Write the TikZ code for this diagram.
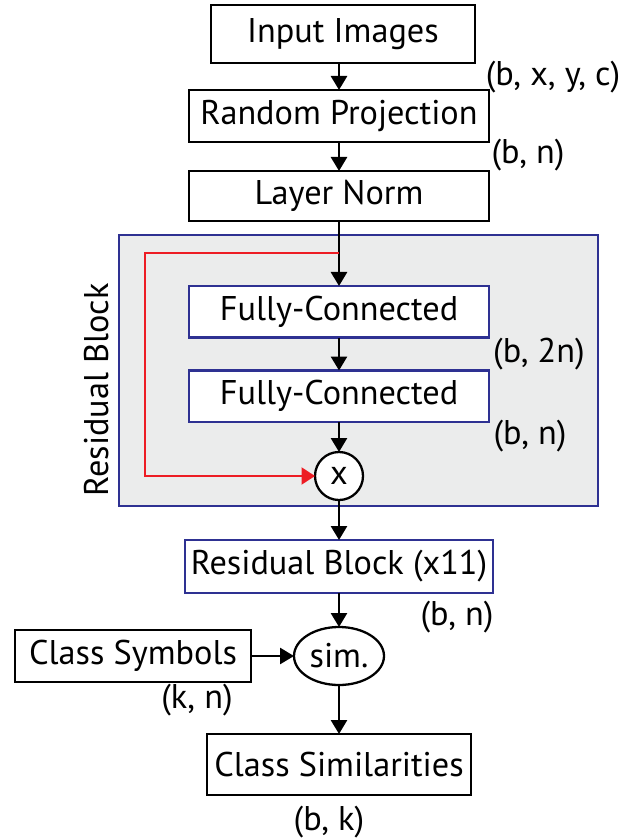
\documentclass[tikz,border=0pt]{standalone}
\usepackage{fontspec}
\setmainfont{PT Sans}
\usetikzlibrary{shapes, shapes.geometric, arrows.meta, positioning, backgrounds, calc}
\definecolor{frameblue}{RGB}{46,49,146}
\definecolor{blockgray}{RGB}{235,236,236}
\definecolor{skipred}{RGB}{237,28,36}
\tikzstyle{netbox} = [
    rectangle,
    minimum height = 1.04cm,
    text centered,
    draw = black,
    line width = 1.6pt,
    fill = white,
    outer sep = 0pt,
]
\tikzstyle{blockbox} = [
    rectangle,
    minimum width = 6cm,
    minimum height = 1.03cm,
    text centered,
    draw = frameblue,
    line width = 1.2pt,
    fill = white,
    outer sep = 0pt,
]
\tikzstyle{dimlabel} = [inner sep = 0pt]
\tikzstyle{flowarrow} = [-{Triangle[length = 0.28cm, width = 0.32cm]}, line width = 1.5pt]
\tikzstyle{skiparrow} = [-{Triangle[length = 0.27cm, width = 0.34cm]}, line width = 1.3pt, draw = skipred]

\begin{document}
\begin{tikzpicture} [font = \fontsize{19.5}{23}\selectfont]
    \useasboundingbox (0, 0) rectangle (12.62, -16.78);

    % residual block frame
    \draw[draw = frameblue, fill = blockgray, line width = 1.2pt] (2.38, -4.70) rectangle (11.96, -10.12);
    \node (BlockName) [dimlabel, rotate = 90] at (1.94, -7.80) {Residual Block};

    \node (InputImages) [netbox, minimum width = 5.28cm, minimum height = 1.16cm] at (6.86, -0.68) {Input Images};
    \node (RandomProj) [netbox, minimum width = 6cm, below = 0.54cm of InputImages, xshift = -0.08cm] {Random Projection};
    \node (LayerNorm) [netbox, minimum width = 6cm, minimum height = 1cm, below = 0.58cm of RandomProj] {Layer Norm};

    \node (FullyConn1) [blockbox, below = 1.3cm of LayerNorm] {Fully-Connected};
    \node (FullyConn2) [blockbox, below = 0.66cm of FullyConn1] {Fully-Connected};
    \node (Mult) [circle, draw = black, line width = 1.3pt, fill = white, minimum size = 0.96cm, inner sep = 0pt, outer sep = 0pt, below = 0.6cm of FullyConn2] {x};

    \node (ResidualX) [blockbox, minimum width = 6.02cm, minimum height = 1.06cm, below = 0.8cm of Mult] {Residual Block (x11)};
    \node (Sim) [ellipse, draw = black, line width = 1.3pt, fill = white, minimum width = 1.8cm, minimum height = 1.16cm, inner sep = 0pt, outer sep = 0pt, below = 0.68cm of ResidualX] {sim.};
    \node (ClassSymbols) [netbox, minimum width = 4.72cm, left = 0.86cm of Sim] {Class Symbols};
    \node (ClassSim) [netbox, minimum width = 5.28cm, minimum height = 1.22cm, below = 0.98cm of Sim] {Class Similarities};

    % tensor shapes
    \node (ShapeIn) [dimlabel] at (11.06, -1.54) {(b, x, y, c)};
    \node (ShapeProj) [dimlabel] at (10.56, -3.10) {(b, n)};
    \node (ShapeFC1) [dimlabel] at (10.78, -7.08) {(b, 2n)};
    \node (ShapeFC2) [dimlabel] at (10.60, -8.72) {(b, n)};
    \node (ShapeRes) [dimlabel] at (9.14, -12.34) {(b, n)};
    \node (ShapeSym) [dimlabel] at (3.94, -14.00) {(k, n)};
    \node (ShapeOut) [dimlabel] at (6.58, -16.44) {(b, k)};

    \draw[flowarrow] (InputImages.south -| RandomProj.north) -- (RandomProj.north);
    \draw[flowarrow] (RandomProj.south) -- (LayerNorm.north);
    \draw[flowarrow] (LayerNorm.south) -- (FullyConn1.north);
    \draw[flowarrow] (FullyConn1.south) -- (FullyConn2.north);
    \draw[flowarrow] (FullyConn2.south) -- (Mult.north);
    \draw[flowarrow] (Mult.south) -- (ResidualX.north);
    \draw[flowarrow] (ResidualX.south) -- (Sim.north);
    \draw[flowarrow] (ClassSymbols.east) -- (Sim.west);
    \draw[flowarrow] (Sim.south) -- (ClassSim.north);

    % skip connection
    \coordinate (Split) at ($(LayerNorm.south) + (0, -0.64)$);
    \draw[skiparrow] (Split) -- ++(-3.88, 0) |- (Mult.west);
\end{tikzpicture}
\end{document}
